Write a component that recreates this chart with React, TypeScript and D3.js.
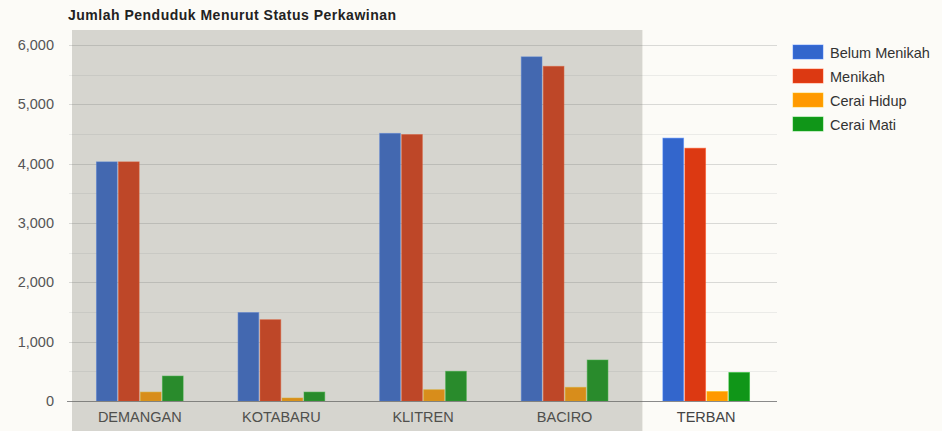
import { useEffect, useRef } from 'react'
import * as d3 from 'd3'

const categories = ['DEMANGAN', 'KOTABARU', 'KLITREN', 'BACIRO', 'TERBAN']
const seriesNames = ['Belum Menikah', 'Menikah', 'Cerai Hidup', 'Cerai Mati']
const belumMenikah = [4030, 1490, 4510, 5800, 4430]
const menikah = [4030, 1370, 4490, 5640, 4260]
const ceraiHidup = [150, 50, 190, 230, 160]
const ceraiMati = [420, 150, 500, 690, 480]
const yTicks = [0, 1000, 2000, 3000, 4000, 5000, 6000]
const colours = ['#3366cc', '#dc3912', '#ff9900', '#109618']

// first four groups sit under the grey hover band
const highlighted = ['DEMANGAN', 'KOTABARU', 'KLITREN', 'BACIRO']

export default function App() {
  const svgRef = useRef<SVGSVGElement>(null)

  useEffect(() => {
    const width = 942
    const height = 431
    const svg = d3.select(svgRef.current)
    svg.selectAll('*').remove()

    const font = 'Arial, "Liberation Sans", sans-serif'
    svg.append('rect').attr('width', width).attr('height', height).attr('fill', '#fcfbf7')

    const x = d3.scaleBand().domain(categories).range([69, 777]).paddingInner(0).paddingOuter(0)
    const y = d3.scaleLinear().domain([0, 6000]).range([401, 45])
    const inner = d3.scaleBand().domain(seriesNames).range([0, x.bandwidth()]).paddingInner(0.06).paddingOuter(1.25)

    const values = [belumMenikah, menikah, ceraiHidup, ceraiMati]

    // minor + major grid
    const minor = d3.range(500, 6001, 1000)
    svg.append('g').selectAll('line').data(minor).join('line')
      .attr('x1', 69).attr('x2', 777)
      .attr('y1', d => Math.round(y(d)) + 0.5).attr('y2', d => Math.round(y(d)) + 0.5)
      .attr('stroke', '#ebebe8').attr('stroke-width', 1)
    svg.append('g').selectAll('line').data(yTicks.slice(1)).join('line')
      .attr('x1', 69).attr('x2', 777)
      .attr('y1', d => Math.round(y(d)) + 0.5).attr('y2', d => Math.round(y(d)) + 0.5)
      .attr('stroke', '#d9d9d6').attr('stroke-width', 1)

    // y tick labels
    svg.append('g').selectAll('text').data(yTicks).join('text')
      .attr('x', 54).attr('y', d => y(d) + 5)
      .attr('text-anchor', 'end')
      .attr('font-family', font).attr('font-size', 14.5).attr('fill', '#555')
      .text(d => d3.format(',')(d))

    // bars
    const groups = svg.append('g').selectAll('g').data(categories).join('g')
      .attr('transform', c => `translate(${x(c)},0)`)
    groups.selectAll('rect')
      .data((c, i) => seriesNames.map((s, j) => ({ s, v: values[j][i], j })))
      .join('rect')
      .attr('x', d => inner(d.s)!)
      .attr('width', inner.bandwidth())
      .attr('y', d => y(d.v))
      .attr('height', d => y(0) - y(d.v))
      .attr('fill', d => colours[d.j])
      .attr('stroke', d => d3.color(colours[d.j])!.brighter(0.6).toString())
      .attr('stroke-opacity', 0.5)
      .attr('stroke-width', 1)

    // baseline
    svg.append('line').attr('x1', 67).attr('x2', 777)
      .attr('y1', 401.5).attr('y2', 401.5)
      .attr('stroke', '#8a8a8a').attr('stroke-width', 1.2)

    // category labels
    svg.append('g').selectAll('text').data(categories).join('text')
      .attr('x', c => x(c)! + x.bandwidth() / 2).attr('y', 422)
      .attr('text-anchor', 'middle')
      .attr('font-family', font).attr('font-size', 14.5).attr('fill', '#444')
      .text(c => c)

    // grey highlight band
    const first = highlighted[0]
    const last = highlighted[highlighted.length - 1]
    const bandLeft = x(first)! + 3
    const bandRight = x(last)! + x.bandwidth() + 7
    svg.append('rect')
      .attr('x', bandLeft).attr('y', 30)
      .attr('width', bandRight - bandLeft)
      .attr('height', height - 30)
      .attr('fill', '#6e6e64').attr('fill-opacity', 0.27)

    // title
    svg.append('text').attr('x', 68).attr('y', 20)
      .attr('font-family', font).attr('font-size', 14).attr('font-weight', 'bold').attr('fill', '#222')
      .attr('letter-spacing', 0.5)
      .text('Jumlah Penduduk Menurut Status Perkawinan')

    // legend
    const legend = svg.append('g').selectAll('g').data(seriesNames).join('g')
      .attr('transform', (d, i) => `translate(793,${45 + i * 24})`)
    legend.append('rect').attr('width', 30).attr('height', 14)
      .attr('fill', (d, i) => colours[i])
      .attr('stroke', (d, i) => d3.color(colours[i])!.brighter(0.6).toString())
      .attr('stroke-opacity', 0.5)
    legend.append('text').attr('x', 37).attr('y', 12.5)
      .attr('font-family', font).attr('font-size', 14.5).attr('fill', '#333')
      .text(d => d)
  }, [])

  return (
    <svg ref={svgRef} width={942} height={431}
      style={{ position: 'absolute', left: 0, top: 0, display: 'block' }} />
  )
}
